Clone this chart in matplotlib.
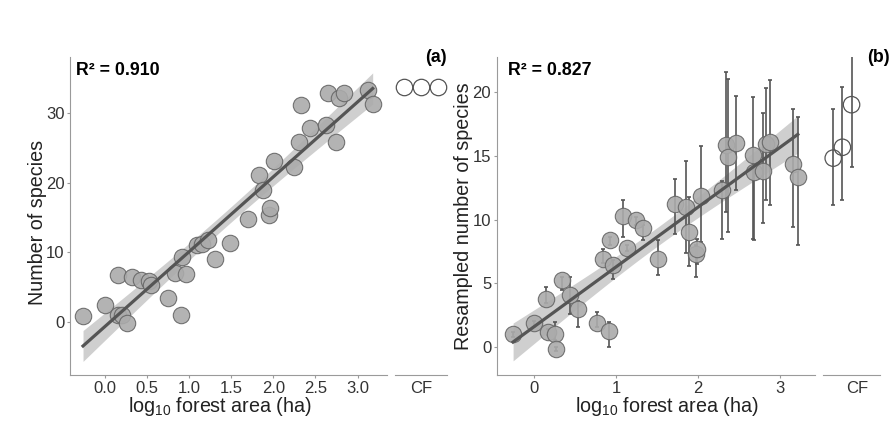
import numpy as np
import matplotlib
matplotlib.use("Agg")
import matplotlib.pyplot as plt

plt.rcParams['font.family'] = ['Liberation Sans', 'DejaVu Sans']
plt.rcParams['mathtext.fontset'] = 'custom'
plt.rcParams['mathtext.rm'] = 'Liberation Sans'
plt.rcParams['mathtext.it'] = 'Liberation Sans:italic'
plt.rcParams['mathtext.bf'] = 'Liberation Sans:bold'

# ---- panel (a): observed species richness ----
area_a = [-0.26, 0.00, 0.15, 0.16, 0.20, 0.26, 0.32, 0.43, 0.52, 0.55, 0.75, 0.83,
          0.91, 0.96, 0.90, 1.09, 1.15, 1.22, 1.31, 1.49, 1.70, 1.83, 1.88, 1.95,
          1.96, 2.01, 2.25, 2.30, 2.33, 2.43, 2.63, 2.65, 2.75, 2.78, 2.84, 3.12, 3.18]
rich_a = [0.8, 2.5, 6.8, 1.0, 1.0, -0.2, 6.4, 6.1, 5.9, 5.3, 3.5, 7.1,
          9.3, 6.9, 1.0, 11.0, 11.2, 11.7, 9.1, 11.4, 14.8, 21.1, 19.0, 15.3,
          16.3, 23.1, 22.3, 25.8, 31.1, 27.8, 28.2, 32.9, 25.8, 32.1, 32.9, 33.3, 31.3]
cf_a = [33.7, 33.7, 33.7]

# ---- panel (b): resampled species richness (mean, lower, upper) ----
area_b = [-0.26, 0.00, 0.14, 0.17, 0.25, 0.265, 0.335, 0.436, 0.537, 0.762, 0.916, 0.835,
          0.924, 0.965, 1.087, 1.128, 1.238, 1.33, 1.514, 1.72, 1.85, 1.89, 1.97, 1.99,
          2.04, 2.29, 2.34, 2.37, 2.47, 2.67, 2.69, 2.80, 2.83, 2.88, 3.16, 3.22]
rich_b = [1.01, 1.87, 3.82, 1.22, 1.01, -0.13, 5.25, 4.08, 3.04, 1.87, 1.30, 6.94,
          8.37, 6.42, 10.24, 7.77, 9.93, 9.33, 6.94, 11.23, 10.97, 9.00, 7.33, 7.72,
          11.83, 12.32, 15.86, 14.87, 15.99, 15.08, 13.70, 13.83, 15.90, 16.10, 14.35, 13.30]
low_b = [0.8, 1.6, 3.5, 1.0, 0.6, -0.3, 4.5, 2.65, 1.61, 1.6, 0.05, 6.6,
         8.0, 5.38, 8.63, 7.5, 9.6, 8.37, 5.64, 8.9, 7.38, 6.34, 5.5, 6.5,
         8.24, 8.5, 10.6, 9.0, 12.27, 8.5, 8.4, 9.72, 11.5, 11.1, 9.4, 7.98]
high_b = [1.2, 2.1, 4.73, 1.4, 2.0, 0.0, 5.5, 5.5, 3.6, 2.78, 2.0, 7.72,
          8.6, 6.8, 11.49, 8.0, 10.2, 9.6, 8.37, 13.18, 14.6, 11.75, 8.0, 8.5,
          15.78, 13.0, 21.5, 21.0, 19.68, 19.6, 14.3, 18.3, 20.3, 20.9, 18.64, 18.0]
cf_b = [14.8, 15.65, 18.98]
cf_low_b = [11.1, 11.49, 14.14]
cf_high_b = [18.64, 20.33, 23.58]

FILL = '#ababab'
EDGE = '#666666'
LINE = '#555555'
SPINE = '#9a9a9a'


def fit_band(x, y):
    x = np.asarray(x, float)
    y = np.asarray(y, float)
    slope, icpt = np.polyfit(x, y, 1)
    n = len(x)
    resid = y - (slope * x + icpt)
    s = np.sqrt(np.sum(resid ** 2) / (n - 2))
    xs = np.linspace(x.min(), x.max(), 100)
    fit = slope * xs + icpt
    se = s * np.sqrt(1.0 / n + (xs - x.mean()) ** 2 / np.sum((x - x.mean()) ** 2))
    return xs, fit, fit - 2.03 * se, fit + 2.03 * se


def style_axes(ax, left=True):
    for side in ['top', 'right']:
        ax.spines[side].set_visible(False)
    ax.spines['bottom'].set_color(SPINE)
    ax.spines['left'].set_color(SPINE)
    ax.spines['left'].set_visible(left)
    ax.tick_params(colors='#333333', labelsize=12, length=2, width=0.8, pad=2)
    ax.tick_params(axis='both', color=SPINE)


fig = plt.figure(figsize=(8.95, 4.25), dpi=100)

# ---------- (a) ----------
ax1 = fig.add_axes([0.0782, 0.1176, 0.3542, 0.748])
xs, fit, lo, hi = fit_band(area_a, rich_a)
ax1.fill_between(xs, lo, hi, color='#cfcfcf', lw=0, zorder=1)
ax1.plot(xs, fit, color=LINE, lw=2.3, zorder=3)
ax1.scatter(area_a, rich_a, s=140, facecolor=FILL, edgecolor=EDGE, lw=0.8, alpha=0.9, zorder=2)
ax1.set_xlim(-0.415, 3.35)
ax1.set_ylim(-7.6, 38)
ax1.set_xticks([0.0, 0.5, 1.0, 1.5, 2.0, 2.5, 3.0])
ax1.set_xticklabels(['0.0', '0.5', '1.0', '1.5', '2.0', '2.5', '3.0'])
ax1.set_yticks([0, 10, 20, 30])
style_axes(ax1)
ax1.set_xlabel('log$_{10}$ forest area (ha)', fontsize=14.2, color='#222222')
ax1.set_ylabel('Number of species', fontsize=14.2, color='#222222')
ax1.xaxis.set_label_coords(0.473, -0.064)
ax1.yaxis.set_label_coords(-0.074, 0.48)
ax1.text(0.02, 0.985, 'R² = 0.910', transform=ax1.transAxes, fontsize=12.8,
         fontweight='bold', va='top', ha='left')

ax1c = fig.add_axes([0.4413, 0.1176, 0.0581, 0.748])
ax1c.scatter([1, 2, 3], cf_a, s=140, facecolor='white', edgecolor='#555555', lw=0.9, zorder=2)
ax1c.set_xlim(0.5, 3.5)
ax1c.set_ylim(-7.6, 38)
ax1c.set_xticks([2])
ax1c.set_xticklabels(['CF'])
ax1c.set_yticks([])
style_axes(ax1c, left=False)
ax1c.tick_params(axis='x', length=0, pad=4.5)
ax1c.text(1.0, 1.0, '(a)', transform=ax1c.transAxes, fontsize=12.8,
          fontweight='bold', ha='right', va='center')

# ---------- (b) ----------
ax2 = fig.add_axes([0.555, 0.1176, 0.3556, 0.748])
xs, fit, lo, hi = fit_band(area_b, rich_b)
ax2.fill_between(xs, lo, hi, color='#cfcfcf', lw=0, zorder=1)
yb = np.array(rich_b)
err_b = [yb - np.array(low_b), np.array(high_b) - yb]
ax2.errorbar(area_b, rich_b, yerr=err_b, fmt='none', ecolor='#555555', elinewidth=1.2,
             capsize=1.5, capthick=1.2, zorder=2)
ax2.plot(xs, fit, color=LINE, lw=2.3, zorder=4)
ax2.scatter(area_b, rich_b, s=140, facecolor=FILL, edgecolor=EDGE, lw=0.8, alpha=0.9, zorder=3)
ax2.set_xlim(-0.46, 3.43)
ax2.set_ylim(-2.16, 22.7)
ax2.set_xticks([0, 1, 2, 3])
ax2.set_yticks([0, 5, 10, 15, 20])
style_axes(ax2)
ax2.set_xlabel('log$_{10}$ forest area (ha)', fontsize=14.2, color='#222222')
ax2.set_ylabel('Resampled number of species', fontsize=14.2, color='#222222')
ax2.xaxis.set_label_coords(0.534, -0.064)
ax2.yaxis.set_label_coords(-0.076, 0.5)
ax2.text(0.035, 0.985, 'R² = 0.827', transform=ax2.transAxes, fontsize=12.8,
         fontweight='bold', va='top', ha='left')

ax2c = fig.add_axes([0.9192, 0.1176, 0.064, 0.748])
cb = np.array(cf_b)
err_cf = [cb - np.array(cf_low_b), np.array(cf_high_b) - cb]
ax2c.errorbar([1, 2, 3], cf_b, yerr=err_cf, fmt='none', ecolor='#555555', elinewidth=1.2,
              capsize=1.5, capthick=1.2, zorder=2)
ax2c.scatter([1, 2, 3], cf_b, s=140, facecolor='none', edgecolor='#555555', lw=0.9, zorder=3)
ax2c.set_xlim(-0.15, 6.1)
ax2c.set_ylim(-2.16, 22.7)
ax2c.set_xticks([3.6])
ax2c.set_xticklabels(['CF'])
ax2c.set_yticks([])
style_axes(ax2c, left=False)
ax2c.tick_params(axis='x', length=0, pad=4.5)
ax2c.text(1.17, 1.0, '(b)', transform=ax2c.transAxes, fontsize=12.8,
          fontweight='bold', ha='right', va='center')

fig.savefig('out.png', dpi=100)
